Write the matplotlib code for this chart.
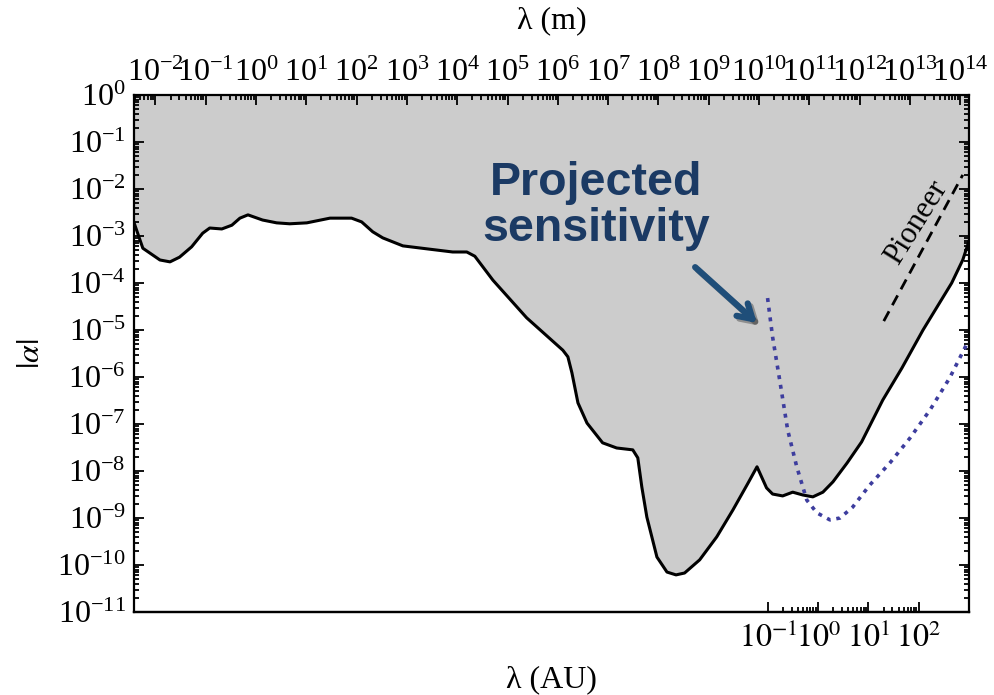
import numpy as np
import matplotlib
matplotlib.use("Agg")
import matplotlib.pyplot as plt
from matplotlib.ticker import LogLocator, FixedLocator, NullFormatter
import matplotlib.patheffects as pe

plt.rcParams['font.family'] = ['Liberation Serif', 'DejaVu Serif']
plt.rcParams['mathtext.fontset'] = 'stix'

AU = 1.496e11  # metres per AU

# Excluded-region boundary (log10 lambda [m], log10 |alpha|)
bound_logm = [-2.43, -2.25, -1.91, -1.71, -1.52, -1.28, -1.06, -0.92, -0.68, -0.48,
              -0.32, -0.16, 0.13, 0.41, 0.67, 1.01, 1.47, 1.90, 2.10, 2.32,
              2.52, 2.92, 3.45, 3.91, 4.19, 4.35, 4.71, 5.38, 6.10, 6.20,
              6.28, 6.40, 6.58, 6.89, 7.17, 7.49, 7.59, 7.67, 7.77, 7.97,
              8.17, 8.35, 8.52, 8.82, 9.16, 9.48, 9.78, 9.96, 10.15, 10.27,
              10.47, 10.67, 10.87, 11.07, 11.27, 11.47, 11.75, 12.04, 12.46, 12.84,
              13.26, 13.83, 14.05, 14.17]
bound_loga = [-2.70, -3.26, -3.51, -3.55, -3.45, -3.23, -2.94, -2.83, -2.85, -2.77,
              -2.62, -2.55, -2.66, -2.72, -2.74, -2.72, -2.62, -2.62, -2.70, -2.91,
              -3.04, -3.21, -3.28, -3.34, -3.34, -3.43, -3.94, -4.74, -5.43, -5.57,
              -5.91, -6.55, -6.98, -7.40, -7.51, -7.55, -7.72, -8.34, -8.98, -9.83,
              -10.15, -10.21, -10.17, -9.89, -9.40, -8.83, -8.26, -7.91, -8.36, -8.49,
              -8.53, -8.45, -8.51, -8.55, -8.45, -8.23, -7.83, -7.38, -6.49, -5.81,
              -5.00, -4.00, -3.51, -3.12]

# Projected sensitivity (dotted)
proj_logm = [10.17, 10.27, 10.41, 10.57, 10.75, 10.95, 11.15, 11.41, 11.61, 11.86,
             12.20, 12.60, 13.00, 13.40, 13.79, 14.13]
proj_loga = [-4.32, -5.15, -6.06, -7.13, -7.91, -8.62, -8.89, -9.04, -9.00, -8.77,
             -8.30, -7.83, -7.30, -6.70, -6.02, -5.30]

# Pioneer (dashed)
pion_logm = [12.48, 14.05]
pion_loga = [-4.81, -1.70]

au_ticks = [0.1, 1, 10, 100]
au_ticklabels = [r'$10^{-1}$', r'$10^{0}$', r'$10^{1}$', r'$10^{2}$']

lam_b = 10.0 ** np.array(bound_logm)
alp_b = 10.0 ** np.array(bound_loga)
lam_p = 10.0 ** np.array(proj_logm)
alp_p = 10.0 ** np.array(proj_loga)
lam_pi = 10.0 ** np.array(pion_logm)
alp_pi = 10.0 ** np.array(pion_loga)

fig = plt.figure(figsize=(9.95, 6.95), dpi=100)
ax = fig.add_axes([0.1347, 0.1194, 0.9739 - 0.1347, 0.8633 - 0.1194])

ax.fill_between(lam_b, alp_b, 1.0, color='#cccccc', lw=0, zorder=1)
ax.plot(lam_b, alp_b, color='black', lw=2.2, zorder=3)
ax.plot(lam_p, alp_p, color='#3d3d9e', lw=2.6, ls=(0, (1.1, 1.6)), zorder=3)
ax.plot(lam_pi, alp_pi, color='black', lw=2.0, ls=(0, (4, 2.5)), zorder=3)

ax.set_xscale('log')
ax.set_yscale('log')
ax.set_xlim(10 ** -13.6 * AU, 1e3 * AU)
ax.set_ylim(1e-11, 1.0)

ax.xaxis.set_major_locator(LogLocator(base=10, numticks=40))
ax.xaxis.set_minor_locator(LogLocator(base=10, subs=np.arange(2, 10), numticks=40))
ax.yaxis.set_major_locator(LogLocator(base=10, numticks=40))
ax.yaxis.set_minor_locator(LogLocator(base=10, subs=np.arange(2, 10), numticks=40))
ax.xaxis.set_minor_formatter(NullFormatter())
ax.yaxis.set_minor_formatter(NullFormatter())

ax.tick_params(which='both', direction='in', top=True, bottom=False, left=True, right=True,
               labeltop=True, labelbottom=False, labelsize=23, width=1.3)
ax.tick_params(which='major', length=7)
ax.tick_params(which='minor', length=3.5)
ax.tick_params(axis='x', which='both', pad=5)
ax.tick_params(axis='y', which='both', pad=6)
for s in ax.spines.values():
    s.set_linewidth(1.6)

ax.xaxis.set_label_position('top')
ax.set_xlabel('λ (m)', fontsize=23, labelpad=22)
ax.set_ylabel(r'$|\alpha|$', fontsize=23, labelpad=8)

secax = ax.secondary_xaxis('bottom', functions=(lambda m: m / AU, lambda a: a * AU))
secax.set_xticks(au_ticks, au_ticklabels)
minors = [m * d for d in [0.1, 1, 10] for m in range(2, 10)]
secax.xaxis.set_minor_locator(FixedLocator(minors))
secax.xaxis.set_minor_formatter(NullFormatter())
secax.tick_params(which='both', direction='in', labelsize=23, width=1.3, pad=8)
secax.tick_params(which='major', length=7)
secax.tick_params(which='minor', length=3.5)
secax.spines['bottom'].set_linewidth(1.6)
secax.set_xlabel('λ (AU)', fontsize=23, labelpad=8)

ax.text(0.553, 0.785, 'Projected\nsensitivity', transform=ax.transAxes,
        ha='center', va='center', fontsize=33.5, fontweight='bold', color='#1b3a64',
        family=['Liberation Sans', 'DejaVu Sans'], linespacing=1.05, zorder=5)

ax.annotate('', xy=(0.746, 0.559), xytext=(0.672, 0.667), xycoords='axes fraction',
            textcoords='axes fraction',
            arrowprops=dict(arrowstyle='->,head_length=1.0,head_width=0.6', lw=4.5,
                            color='#1f4e79', shrinkA=0, shrinkB=0,
                            path_effects=[pe.SimpleLineShadow(offset=(2, -2), alpha=0.3),
                                          pe.Normal()]),
            zorder=5)

ax.text(0.9365, 0.754, 'Pioneer', transform=ax.transAxes, ha='center', va='center',
        rotation=58, fontsize=22, zorder=5)

fig.savefig('out.png', dpi=100)
